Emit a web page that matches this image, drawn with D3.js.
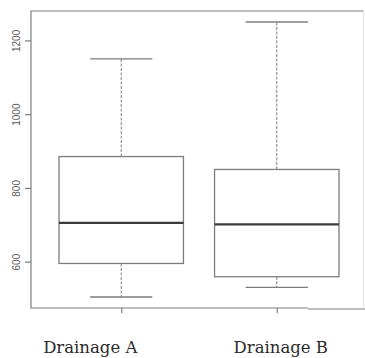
<!DOCTYPE html>
<html>
<head>
<meta charset="utf-8">
<script src="https://cdn.jsdelivr.net/npm/d3@7"></script>
<style>
  body { margin: 0; background: #fff; }
</style>
</head>
<body>
<div id="chart"></div>
<script>
// boxplot stats
const groups = ["Drainage A", "Drainage B"];
const lowWhisker = [504, 530];
const q1 = [595, 559];
const medians = [705, 701];
const q3 = [885, 850];
const highWhisker = [1150, 1250];
const yTicks = [600, 800, 1000, 1200];

const W = 365, H = 358;
const frame = { left: 31, top: 11, bottom: 308, right: 367 };
const grey = "#7d7d7d";

const svg = d3.select("#chart").append("svg")
    .attr("width", W)
    .attr("height", H);

// R style: xlim 0.5..2.5 plus 4% padding
const x = d3.scaleLinear().domain([0.42, 2.58]).range([frame.left, frame.right]);
const y = d3.scaleLinear().domain([474.2, 1279.8]).range([frame.bottom, frame.top]);

const boxW = x(0.8) - x(0);
const capW = boxW / 2;

// frame
svg.append("path")
    .attr("d", `M${W - 1.5},${frame.top}H${frame.left}V${frame.bottom}H${x(2.2)}`)
    .attr("fill", "none")
    .attr("stroke", grey)
    .attr("stroke-width", 1.2);
svg.append("line")
    .attr("x1", x(2.2)).attr("x2", W)
    .attr("y1", frame.bottom + 1).attr("y2", frame.bottom + 1)
    .attr("stroke", grey).attr("stroke-width", 1.2);
svg.append("line")
    .attr("x1", W - 1.5).attr("x2", W - 1.5)
    .attr("y1", frame.top).attr("y2", frame.bottom + 1)
    .attr("stroke", "#e4e4e4").attr("stroke-width", 1);

// y axis
const yAxis = svg.append("g")
    .attr("transform", `translate(${frame.left},0)`)
    .call(d3.axisLeft(y).tickValues(yTicks).tickSize(6).tickSizeOuter(0).tickFormat(d3.format("d")));
yAxis.select(".domain").remove();
yAxis.selectAll(".tick line").attr("stroke", grey).attr("stroke-width", 1.2);
yAxis.selectAll(".tick text")
    .attr("transform", "rotate(-90)")
    .attr("x", 0).attr("y", -11).attr("dy", 0)
    .attr("text-anchor", "middle")
    .attr("fill", "#5a5a5a")
    .style("font-family", "'Liberation Sans', Arial, sans-serif")
    .style("font-size", "10px");

// x ticks
const xAxis = svg.append("g")
    .attr("transform", `translate(0,${frame.bottom})`)
    .call(d3.axisBottom(x).tickValues([1, 2]).tickSize(5).tickFormat(""));
xAxis.select(".domain").remove();
xAxis.selectAll(".tick line").attr("stroke", grey).attr("stroke-width", 1.2);

const idx = d3.range(groups.length);
const g = svg.selectAll("g.box").data(idx).enter().append("g").attr("class", "box");

// whiskers
g.append("line")
    .attr("x1", i => x(i + 1)).attr("x2", i => x(i + 1))
    .attr("y1", i => y(q3[i])).attr("y2", i => y(highWhisker[i]))
    .attr("stroke", grey).attr("stroke-dasharray", "3,1.5");
g.append("line")
    .attr("x1", i => x(i + 1)).attr("x2", i => x(i + 1))
    .attr("y1", i => y(q1[i])).attr("y2", i => y(lowWhisker[i]))
    .attr("stroke", grey).attr("stroke-dasharray", "3,1.5");

// caps
[highWhisker, lowWhisker].forEach(arr => {
    g.append("line")
        .attr("x1", i => x(i + 1) - capW / 2).attr("x2", i => x(i + 1) + capW / 2)
        .attr("y1", i => y(arr[i])).attr("y2", i => y(arr[i]))
        .attr("stroke", grey).attr("stroke-width", 1.3);
});

// boxes
g.append("rect")
    .attr("x", i => x(i + 1) - boxW / 2)
    .attr("y", i => y(q3[i]))
    .attr("width", boxW)
    .attr("height", i => y(q1[i]) - y(q3[i]))
    .attr("fill", "#fff")
    .attr("stroke", grey)
    .attr("stroke-width", 1.3);

// medians
g.append("line")
    .attr("x1", i => x(i + 1) - boxW / 2).attr("x2", i => x(i + 1) + boxW / 2)
    .attr("y1", i => y(medians[i])).attr("y2", i => y(medians[i]))
    .attr("stroke", "#3c3c3c").attr("stroke-width", 2.4);

// category labels (set a bit off the ticks, as in the picture)
const labelShift = [-31, 4];
svg.selectAll("text.cat").data(idx).enter().append("text")
    .attr("class", "cat")
    .attr("x", i => x(i + 1) + labelShift[i])
    .attr("y", 352.5)
    .attr("text-anchor", "middle")
    .attr("fill", "#2b2b2b")
    .style("font-family", "'DejaVu Serif', serif")
    .style("font-size", "16.5px")
    .text(i => groups[i]);
</script>
</body>
</html>
